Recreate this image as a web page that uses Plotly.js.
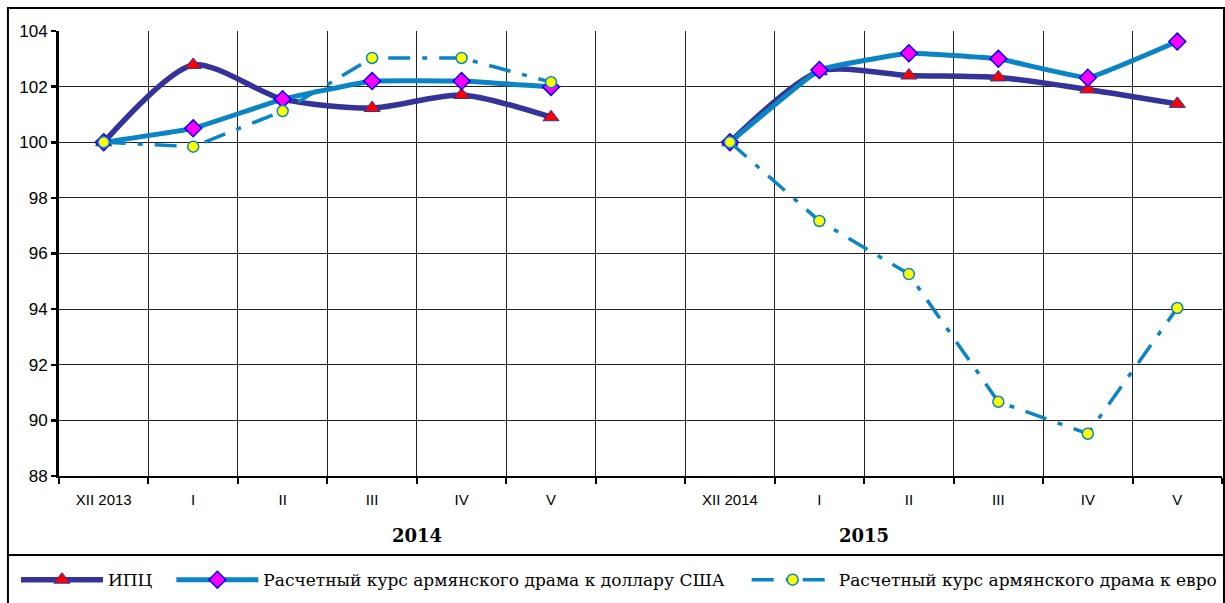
<!DOCTYPE html>
<html>
<head>
<meta charset="utf-8">
<script src="https://cdn.plot.ly/plotly-3.0.1.min.js"></script>
<style>
  html, body { margin: 0; padding: 0; background: #fff; }
  #chart { width: 1225px; height: 603px; }
</style>
</head>
<body>
<div id="chart"></div>
<script>
// ---- data ----
const categories2014 = ["XII 2013", "I", "II", "III", "IV", "V"];
const categories2015 = ["XII 2014", "I", "II", "III", "IV", "V"];
const yearLabels = ["2014", "2015"];
const seriesNames = [
  "ИПЦ",
  "Расчетный курс армянского драма к доллару США",
  "Расчетный курс армянского драма к евро"
];
const cpi2014 = [100, 102.78, 101.55, 101.23, 101.7, 100.9];
const cpi2015 = [100, 102.55, 102.4, 102.33, 101.9, 101.38];
const usd2014 = [100, 100.5, 101.55, 102.2, 102.2, 101.99];
const usd2015 = [100, 102.6, 103.2, 103.0, 102.32, 103.62];
const eur2014 = [100, 99.84, 101.12, 103.03, 103.03, 102.16];
const eur2015 = [100, 97.17, 95.26, 90.67, 89.52, 94.04];

// unique category keys (zero-width space keeps repeated month labels distinct)
const xcats = categories2014.concat([" "], categories2015.map(s => s === "XII 2014" ? s : s + "\u200b"));
const join = (a, b) => a.concat([null], b);

const traces = [
  {
    name: seriesNames[0] + "\u2002\u00a0", x: xcats, y: join(cpi2014, cpi2015),
    mode: "lines+markers", connectgaps: false,
    line: { color: "#333399", width: 5.5, shape: "spline", smoothing: 0.75 },
    marker: { symbol: "triangle-up", size: 14, color: "#ff0000", line: { color: "#333399", width: 1 } }
  },
  {
    name: seriesNames[1] + "\u2002\u2002", x: xcats, y: join(usd2014, usd2015),
    mode: "lines+markers", connectgaps: false,
    line: { color: "#0a84c4", width: 5, shape: "spline", smoothing: 0.25 },
    marker: { symbol: "diamond", size: 13, color: "#ff00ff", line: { color: "#0000ff", width: 1.5 } }
  },
  {
    name: seriesNames[2], x: xcats, y: join(eur2014, eur2015),
    mode: "lines+markers", connectgaps: false,
    line: { color: "#0a84c4", width: 3.5, shape: "linear", dash: "22px,12px,5px,12px" },
    marker: { symbol: "circle", size: 11, color: "#ffff00", line: { color: "#0a84c4", width: 1.5 } }
  }
];

const layout = {
  width: 1225, height: 603,
  margin: { l: 59, r: 3, t: 31, b: 127 },
  paper_bgcolor: "#ffffff", plot_bgcolor: "#ffffff",
  showlegend: true,
  legend: {
    orientation: "h", x: -0.0370, xanchor: "left", y: -0.234, yanchor: "middle",
    font: { family: "DejaVu Serif", size: 17, color: "#000" },
    itemwidth: 82, bgcolor: "rgba(0,0,0,0)", traceorder: "normal"
  },
  xaxis: {
    type: "category", tickson: "boundaries",
    range: [-0.5, 12.5],
    showgrid: true, gridcolor: "#222", gridwidth: 1,
    showline: true, linecolor: "#000", linewidth: 2,
    ticks: "outside", ticklen: 6, tickwidth: 2, tickcolor: "#000",
    ticklabelstandoff: 9,
    tickfont: { family: "Liberation Sans, Arial, sans-serif", size: 15, color: "#000" },
    zeroline: false, fixedrange: true
  },
  yaxis: {
    range: [88, 104], dtick: 2, tick0: 88,
    showgrid: true, gridcolor: "#222", gridwidth: 1,
    showline: true, linecolor: "#000", linewidth: 3,
    ticks: "outside", ticklen: 5, tickwidth: 2.5, tickcolor: "#000",
    tickfont: { family: "Liberation Sans, Arial, sans-serif", size: 17, color: "#000" },
    zeroline: false, fixedrange: true
  },
  shapes: [
    { type: "rect", xref: "paper", yref: "paper", x0: -0.0439, x1: 1.0017, y0: -0.3, y1: 1.0517,
      line: { color: "#000", width: 2 }, fillcolor: "rgba(0,0,0,0)", layer: "above" },
    { type: "line", xref: "paper", yref: "paper", x0: -0.0439, x1: 1.0017, y0: -0.1775, y1: -0.1775,
      line: { color: "#000", width: 2 } }
  ],
  annotations: [
    { text: "<b>" + yearLabels[0] + "</b>", x: 3.5, xref: "x", y: -0.1326, yref: "paper",
      showarrow: false, xanchor: "center", yanchor: "middle",
      font: { family: "DejaVu Serif", size: 18, color: "#000" } },
    { text: "<b>" + yearLabels[1] + "</b>", x: 8.5, xref: "x", y: -0.1326, yref: "paper",
      showarrow: false, xanchor: "center", yanchor: "middle",
      font: { family: "DejaVu Serif", size: 18, color: "#000" } }
  ]
};

Plotly.newPlot("chart", traces, layout, { staticPlot: true, displayModeBar: false });
</script>
</body>
</html>
